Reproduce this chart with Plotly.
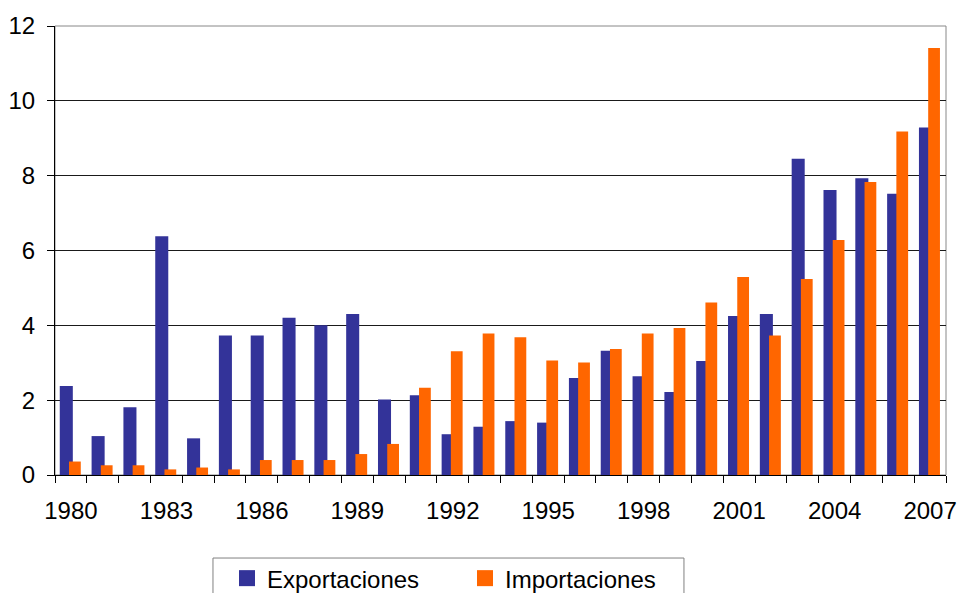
import plotly.graph_objects as go

YEARS = list(range(1980, 2008))
EXPORTACIONES = [2.38, 1.04, 1.81, 6.38, 0.98, 3.73, 3.73, 4.20, 4.00, 4.30,
                 2.02, 2.13, 1.09, 1.29, 1.44, 1.40, 2.59, 3.32, 2.64, 2.22,
                 3.05, 4.25, 4.30, 8.45, 7.62, 7.93, 7.52, 9.29]
IMPORTACIONES = [0.36, 0.26, 0.26, 0.15, 0.20, 0.15, 0.40, 0.40, 0.40, 0.56,
                 0.83, 2.33, 3.31, 3.78, 3.68, 3.06, 3.01, 3.37, 3.78, 3.93,
                 4.61, 5.29, 3.73, 5.24, 6.28, 7.83, 9.18, 11.41]
TICK_YEARS = list(range(1980, 2008, 3))
Y_TICKS = [0, 2, 4, 6, 8, 10, 12]

FONT = "Liberation Sans, Arial, sans-serif"
BLUE = "#333399"
ORANGE = "#FF6600"

fig = go.Figure()
fig.add_trace(go.Bar(name="Exportaciones", x=YEARS, y=EXPORTACIONES,
                     offset=-0.35, width=0.41, showlegend=False,
                     marker=dict(color=BLUE, line=dict(width=0))))
fig.add_trace(go.Bar(name="Importaciones", x=YEARS, y=IMPORTACIONES,
                     offset=-0.06, width=0.37, showlegend=False,
                     marker=dict(color=ORANGE, line=dict(width=0))))
# legend entries with bigger square keys, like the original
for name, col in [("Exportaciones", BLUE), ("Importaciones", ORANGE)]:
    fig.add_trace(go.Scatter(name=name, x=[None], y=[None], mode="markers",
                             marker=dict(symbol="square", size=17, color=col)))

# gray frame on the top and right of the plot area
fig.add_shape(type="rect", xref="paper", yref="paper", x0=0, x1=1, y0=0, y1=1,
              line=dict(color="#888888", width=1), layer="below")
# legend box (runs past the bottom edge, as in the original)
fig.add_shape(type="rect", xref="paper", yref="paper",
              x0=0.1773, x1=0.7059, y0=-0.32, y1=-0.1849,
              line=dict(color="#808080", width=1))

fig.update_xaxes(type="linear", range=[1979.5, 2007.5], automargin=False,
                 tickvals=TICK_YEARS, ticktext=[str(y) for y in TICK_YEARS],
                 ticks="", showgrid=False, zeroline=False,
                 showline=True, linecolor="black", linewidth=1,
                 minor=dict(ticks="outside", ticklen=7, tickcolor="black",
                            tick0=1979.5, dtick=1, showgrid=False),
                 tickfont=dict(family=FONT, size=24, color="black"),
                 ticklabelstandoff=14)
fig.update_yaxes(range=[0, 12], tickvals=Y_TICKS, automargin=False,
                 ticks="outside", ticklen=7, tickcolor="black",
                 showgrid=True, gridcolor="#1a1a1a", gridwidth=1,
                 zeroline=False, showline=True, linecolor="black", linewidth=1,
                 tickfont=dict(family=FONT, size=24, color="black"),
                 ticklabelstandoff=7)

fig.update_layout(
    width=957, height=593,
    margin=dict(l=55, r=11, t=26, b=118, autoexpand=False),
    barmode="overlay",
    plot_bgcolor="white", paper_bgcolor="white",
    font=dict(family=FONT, size=24, color="black"),
    showlegend=True,
    legend=dict(orientation="h", x=(227 - 55) / 891, xanchor="left",
                y=-0.1805, yanchor="top", borderwidth=0,
                bgcolor="rgba(0,0,0,0)",
                entrywidth=193, font=dict(family=FONT, size=24),
                itemsizing="trace"),
)

# drop the default 8px page margin so the figure fills the window
fig.write_html("out.html", config={"displayModeBar": False},
               post_script="document.body.style.margin='0px';"
                           "document.body.style.overflow='hidden';")
